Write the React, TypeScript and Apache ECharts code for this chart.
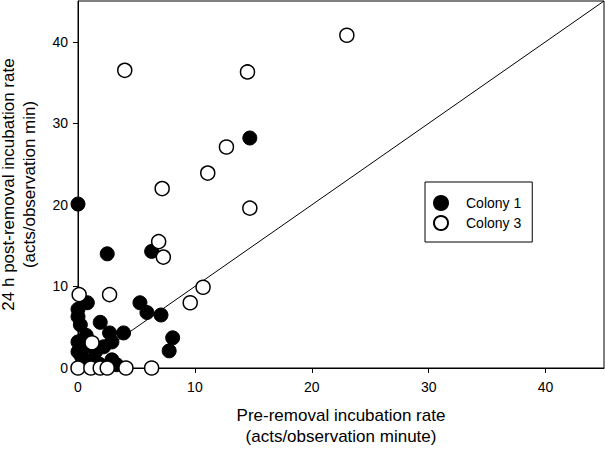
import React, { useEffect, useRef } from "react";
import * as echarts from "echarts";

const colony1: number[][] = [
  [0, 20.1], [2.5, 14.0], [6.3, 14.3], [14.7, 28.2], [5.3, 8.0], [5.9, 6.8],
  [7.1, 6.5], [8.1, 3.7], [7.8, 2.1], [3.9, 4.3], [0.8, 8.0], [0, 7.2],
  [0, 6.3], [0.2, 5.3], [1.9, 5.6], [2.7, 4.3], [2.9, 3.2], [0.7, 4.0],
  [0, 3.2], [0, 2.0], [0.3, 1.4], [1.5, 2.0], [2.9, 1.0], [3.3, 0.4],
  [1.0, 0.8], [2.2, 2.6], [0.6, 2.6], [1.8, 0.5],
];

const colony3: number[][] = [
  [4.0, 36.5], [14.5, 36.3], [23.0, 40.8], [12.7, 27.1], [11.1, 23.9],
  [7.2, 22.0], [14.7, 19.6], [6.9, 15.5], [7.3, 13.6], [0.1, 9.0],
  [2.7, 9.0], [9.6, 8.0], [10.7, 9.9], [1.2, 3.1], [0, 0], [1.1, 0],
  [1.9, 0], [2.5, 0], [4.1, 0], [6.3, 0],
];

const oneToOneLine: number[][] = [[0, 0], [45, 45]];
const tickValues = [0, 10, 20, 30, 40];
const seriesNames = ["Colony 1", "Colony 3"];

const FONT = "Liberation Sans, Arial, sans-serif";

export default function App() {
  const ref = useRef<HTMLDivElement>(null);
  useEffect(() => {
    if (!ref.current) return;
    const chart = echarts.init(ref.current, null, { renderer: "svg" });
    const axisCommon = {
      type: "value" as const,
      min: 0,
      max: 45,
      interval: 10,
      nameLocation: "middle" as const,
      nameTextStyle: { fontFamily: FONT, fontSize: 17, color: "#000", lineHeight: 21 },
      axisLine: { show: true, lineStyle: { color: "#000", width: 1 } },
      axisTick: { show: true, inside: false, length: 5, lineStyle: { color: "#000" }, customValues: tickValues },
      axisLabel: { fontFamily: FONT, fontSize: 14, color: "#000", customValues: tickValues },
      splitLine: { show: false },
    };
    chart.setOption({
      animation: false,
      backgroundColor: "#fff",
      textStyle: { fontFamily: FONT },
      grid: {
        left: 78, right: 1, top: 1, bottom: 82,
        containLabel: false,
        outerBoundsMode: "none",
        show: true, borderColor: "#000", borderWidth: 1,
      },
      xAxis: {
        ...axisCommon,
        name: "Pre-removal incubation rate\n(acts/observation minute)",
        nameGap: 37,
        axisLabel: { ...axisCommon.axisLabel, margin: 12 },
      },
      yAxis: {
        ...axisCommon,
        name: "24 h post-removal incubation rate\n(acts/observation min)",
        nameGap: 38,
        nameRotate: 90,
        axisLabel: { ...axisCommon.axisLabel, margin: 10 },
      },
      legend: {
        data: seriesNames,
        orient: "vertical",
        left: 425,
        top: 182,
        itemWidth: 40,
        itemHeight: 14,
        itemGap: 4,
        padding: [13, 11, 11, 8],
        borderColor: "#000",
        borderWidth: 1,
        textStyle: { fontFamily: FONT, fontSize: 14, color: "#000" },
      },
      series: [
        {
          type: "line",
          data: oneToOneLine,
          showSymbol: false,
          symbol: "none",
          lineStyle: { color: "#000", width: 1 },
          silent: true,
          z: 1,
        },
        {
          name: seriesNames[0],
          type: "scatter",
          data: colony1,
          symbol: "circle",
          symbolSize: 14,
          itemStyle: { color: "#000", borderColor: "#000", borderWidth: 1, opacity: 1 },
          z: 2,
        },
        {
          name: seriesNames[1],
          type: "scatter",
          data: colony3,
          symbol: "circle",
          symbolSize: 14,
          itemStyle: { color: "#fff", borderColor: "#000", borderWidth: 1.5, opacity: 1 },
          z: 3,
        },
      ],
    });
    return () => chart.dispose();
  }, []);
  return (
    <div
      ref={ref}
      style={{ position: "fixed", left: 0, top: 0, width: 605, height: 450 }}
    />
  );
}
